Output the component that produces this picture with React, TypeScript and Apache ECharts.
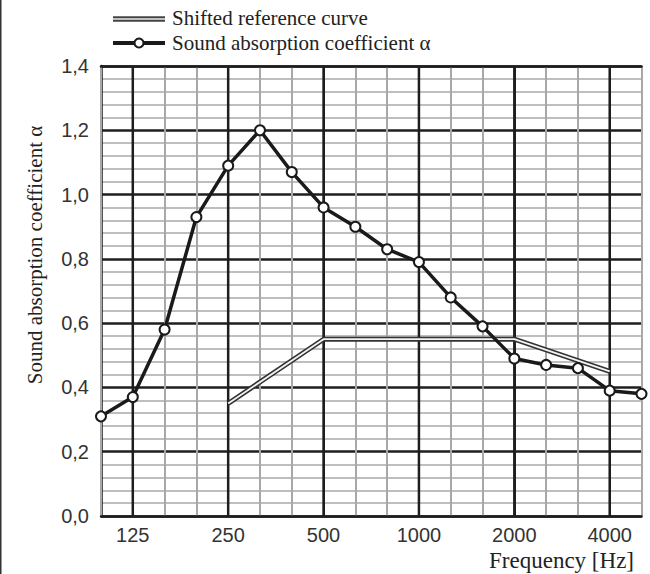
import React, { useEffect, useRef } from "react";
import * as echarts from "echarts";

const freqs = ["100", "125", "160", "200", "250", "315", "400", "500", "630", "800", "1000", "1250", "1600", "2000", "2500", "3150", "4000", "5000"];
const alpha = [0.31, 0.37, 0.58, 0.93, 1.09, 1.2, 1.07, 0.96, 0.9, 0.83, 0.79, 0.68, 0.59, 0.49, 0.47, 0.46, 0.39, 0.38];
const refFreqs = ["250", "500", "1000", "2000", "4000"];
const refValues = [0.35, 0.55, 0.55, 0.55, 0.45];
const labeledFreqs = ["125", "250", "500", "1000", "2000", "4000"];
const yMin = 0;
const yMax = 1.4;

const legendRef = "Shifted reference curve";
const legendAlpha = "Sound absorption coefficient α";
const yName = "Sound absorption coefficient α";
const xName = "Frequency [Hz]";

const SERIF = "Liberation Serif";
const SANS = "Liberation Sans";
const BOLD = "#1e1e1e";
const GREY = "#a8a8a8";

export default function App() {
  const ref = useRef<HTMLDivElement>(null);
  useEffect(() => {
    if (!ref.current) return;
    const chart = echarts.init(ref.current, undefined, { renderer: "svg" });
    const refData = refFreqs.map((f, i) => [f, refValues[i]]);
    const vColors = freqs.map((f) => (labeledFreqs.includes(f) ? BOLD : GREY));
    chart.setOption({
      animation: false,
      backgroundColor: "#ffffff",
      grid: { left: 101, right: 8.5, top: 66, bottom: 58, containLabel: false },
      xAxis: [
        {
          type: "category",
          data: freqs,
          boundaryGap: false,
          position: "bottom",
          z: 2,
          axisLine: { show: true, lineStyle: { color: BOLD, width: 2.5 } },
          axisTick: { show: false },
          axisLabel: {
            interval: 0,
            formatter: (v: string) => (labeledFreqs.includes(v) ? v : ""),
            fontFamily: SANS,
            fontSize: 20,
            color: "#333",
            margin: 9,
          },
          splitLine: { show: true, interval: 0, lineStyle: { color: vColors, width: 2 } },
        },
        {
          type: "category",
          data: freqs,
          boundaryGap: false,
          position: "top",
          z: 3,
          axisLine: { show: true, lineStyle: { color: BOLD, width: 2.5 } },
          axisTick: { show: false },
          axisLabel: { show: false },
          splitLine: { show: false },
        },
      ],
      yAxis: {
        type: "value",
        min: yMin,
        max: yMax,
        interval: 0.2,
        z: 1,
        axisLine: { show: true, lineStyle: { color: BOLD, width: 2.5 } },
        axisTick: { show: false },
        axisLabel: {
          formatter: (v: number) => v.toFixed(1).replace(".", ","),
          fontFamily: SANS,
          fontSize: 20,
          color: "#333",
          margin: 12,
        },
        splitLine: { show: true, lineStyle: { color: BOLD, width: 2.5 } },
        minorTick: { show: false, splitNumber: 5 },
        minorSplitLine: { show: true, lineStyle: { color: GREY, width: 1.5 } },
      },
      series: [
        {
          name: "octave grid",
          type: "custom",
          silent: true,
          z: 3,
          clip: false,
          data: labeledFreqs.map((f) => [f, yMax]),
          encode: { x: 0, y: 1 },
          renderItem: (params: any, api: any) => {
            const f = api.value(0);
            const p0 = api.coord([f, yMin]);
            const p1 = api.coord([f, yMax]);
            return {
              type: "line",
              shape: { x1: p0[0], y1: p0[1], x2: p1[0], y2: p1[1] },
              style: { stroke: BOLD, lineWidth: 2.5, fill: null },
            };
          },
        },
        {
          name: legendRef,
          type: "line",
          data: refData,
          symbol: "none",
          z: 5,
          lineStyle: { color: "#333", width: 5 },
        },
        {
          name: legendRef + " inner",
          type: "line",
          data: refData,
          symbol: "none",
          z: 6,
          lineStyle: { color: "#f4f4f4", width: 1.8 },
        },
        {
          name: legendAlpha,
          type: "line",
          data: alpha,
          symbol: "circle",
          symbolSize: 10,
          z: 7,
          lineStyle: { color: "#1a1a1a", width: 3.5 },
          itemStyle: { color: "#ffffff", borderColor: "#1a1a1a", borderWidth: 2 },
        },
      ],
      graphic: [
        { type: "rect", shape: { x: 0, y: 0, width: 1.5, height: 574 }, style: { fill: "#333" } },
        { type: "line", shape: { x1: 113, y1: 19, x2: 165, y2: 19 }, style: { stroke: "#444", lineWidth: 5.5 } },
        { type: "line", shape: { x1: 113, y1: 19, x2: 165, y2: 19 }, style: { stroke: "#e8e8e8", lineWidth: 1.5 } },
        { type: "text", x: 172, y: 18, style: { text: legendRef, font: `21px "${SERIF}"`, fill: "#222", verticalAlign: "middle", align: "left" } },
        { type: "line", shape: { x1: 113, y1: 43, x2: 165, y2: 43 }, style: { stroke: "#1a1a1a", lineWidth: 4 } },
        { type: "circle", shape: { cx: 139, cy: 43, r: 4.5 }, style: { fill: "#fff", stroke: "#1a1a1a", lineWidth: 2 } },
        { type: "text", x: 172, y: 43, style: { text: legendAlpha, font: `21px "${SERIF}"`, fill: "#222", verticalAlign: "middle", align: "left" } },
        { type: "text", x: 35, y: 255, rotation: Math.PI / 2, style: { text: yName, font: `21px "${SERIF}"`, fill: "#222", verticalAlign: "middle", align: "center" } },
        { type: "text", x: 634, y: 560, style: { text: xName, font: `23px "${SERIF}"`, fill: "#222", verticalAlign: "middle", align: "right" } },
      ],
    });
    return () => chart.dispose();
  }, []);
  return (
    <div
      ref={ref}
      style={{ position: "absolute", left: 0, top: 0, width: 650, height: 574, background: "#fff" }}
    />
  );
}
